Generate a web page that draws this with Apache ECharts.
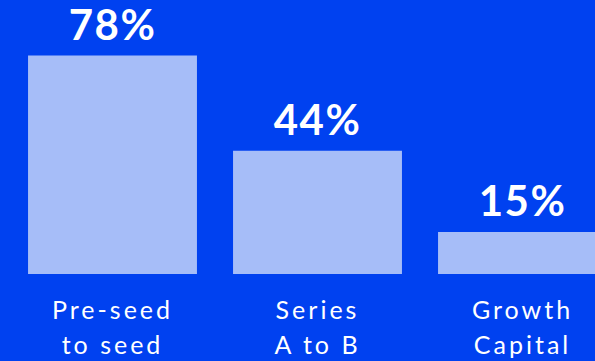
<!DOCTYPE html>
<html>
<head>
<meta charset="utf-8">
<script src="https://cdn.jsdelivr.net/npm/echarts@6/dist/echarts.min.js"></script>
<style>
  html, body { margin: 0; padding: 0; background: #0041F0; overflow: hidden; width: 595px; height: 361px; }
  #chart { width: 625px; height: 361px; }
  /* spaced-out stage names, slightly tighter value labels */
  #chart text { letter-spacing: 3px; }
  #chart text[style*="bold"] { letter-spacing: 1.5px; }
</style>
</head>
<body>
<div id="chart"></div>
<script>
// Share of rounds by funding stage
const stages = ['Pre-seed\nto seed', 'Series\nA to B', 'Growth\nCapital'];
const shares = [78, 44, 15];

const chart = echarts.init(document.getElementById('chart'), null, { renderer: 'svg' });

chart.setOption({
  backgroundColor: '#0041F0',
  animation: false,
  grid: { left: 10, right: 0, top: 50, bottom: 83 },
  xAxis: {
    type: 'category',
    data: stages,
    axisLine: { show: false },
    axisTick: { show: false },
    axisLabel: {
      color: '#FFFFFF',
      fontFamily: 'Lato',
      fontSize: 25,
      lineHeight: 35,
      margin: 17,
      interval: 0
    }
  },
  yAxis: {
    type: 'value',
    min: 0,
    max: 80,
    show: false,
    splitLine: { show: false }
  },
  series: [{
    type: 'bar',
    data: shares,
    barCategoryGap: '17.6%',
    itemStyle: { color: '#A6BDF8' },
    label: {
      show: true,
      position: 'top',
      distance: 12,
      color: '#FFFFFF',
      fontFamily: 'Lato',
      fontWeight: 'bold',
      fontSize: 42,
      lineHeight: 40,
      formatter: p => p.value + '%'
    }
  }]
});
</script>
</body>
</html>
